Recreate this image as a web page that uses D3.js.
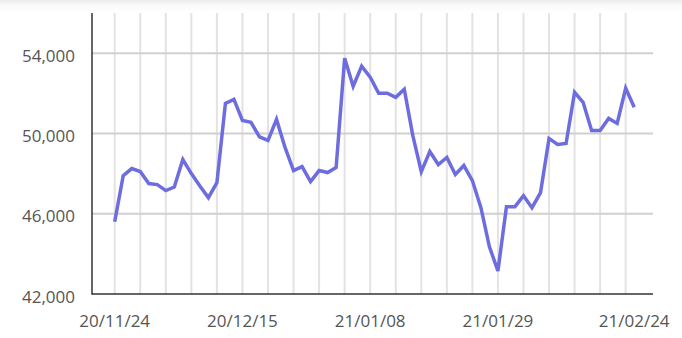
<!DOCTYPE html>
<html>
<head>
<meta charset="utf-8">
<script src="https://cdn.jsdelivr.net/npm/d3@7"></script>
<style>
  body { margin: 0; background: #fff; }
  #chart { position: relative; width: 682px; height: 338px;
    background: linear-gradient(to bottom, #ececec 0px, #fafafa 6px, #fff 12px); }
  text { font-family: "Open Sans", sans-serif; }
</style>
</head>
<body>
<div id="chart"></div>
<script>
// trading days 2020-11-24 .. 2021-02-24
var dates = [
  "20/11/24","20/11/25","20/11/26","20/11/27","20/11/30",
  "20/12/01","20/12/02","20/12/03","20/12/04","20/12/07","20/12/08","20/12/09","20/12/10","20/12/11",
  "20/12/14","20/12/15","20/12/16","20/12/17","20/12/18","20/12/21","20/12/22","20/12/23","20/12/24",
  "20/12/28","20/12/29","20/12/30",
  "21/01/04","21/01/05","21/01/06","21/01/07","21/01/08","21/01/11","21/01/12","21/01/13","21/01/14",
  "21/01/15","21/01/18","21/01/19","21/01/20","21/01/21","21/01/22","21/01/25","21/01/26","21/01/27",
  "21/01/28","21/01/29",
  "21/02/01","21/02/02","21/02/03","21/02/04","21/02/05","21/02/08","21/02/09","21/02/10",
  "21/02/15","21/02/16","21/02/17","21/02/18","21/02/19","21/02/22","21/02/23","21/02/24"
];
var prices = [
  45600, 47900, 48250, 48100, 47500, 47450, 47150, 47330, 48700, 48000,
  47380, 46800, 47550, 51500, 51700, 50650, 50550, 49830, 49650, 50700,
  49300, 48150, 48350, 47600, 48150, 48050, 48300, 53750, 52350, 53350,
  52800, 52000, 52000, 51800, 52200, 49900, 48100, 49100, 48450, 48800,
  47950, 48400, 47650, 46300, 44350, 43150, 46350, 46350, 46900, 46300,
  47050, 49750, 49450, 49500, 52050, 51550, 50150, 50150, 50750, 50500,
  52250, 51300
];
var yTicks = [42000, 46000, 50000, 54000];
var labelDates = ["20/11/24", "20/12/15", "21/01/08", "21/01/29", "21/02/24"];

var width = 682, height = 338;
var plot = {left: 92, right: 653, top: 13, bottom: 294};

var svg = d3.select("#chart").append("svg")
  .attr("width", width).attr("height", height)
  .style("position", "absolute").style("left", 0).style("top", 0);

var x = d3.scaleLinear()
  .domain([0, dates.length - 1])
  .range([114.7, 634.2]);

var y = d3.scaleLinear()
  .domain([42000, 56000])
  .range([plot.bottom, plot.top]);

// vertical grid, every 3rd trading day
var gridIdx = d3.range(0, dates.length, 3);
svg.append("g").selectAll("line")
  .data(gridIdx).enter().append("line")
  .attr("x1", function(d) { return x(d); })
  .attr("x2", function(d) { return x(d); })
  .attr("y1", plot.top).attr("y2", plot.bottom)
  .attr("stroke", "#e3e3e3").attr("stroke-width", 2);

// horizontal grid
svg.append("g").selectAll("line")
  .data(yTicks.filter(function(d) { return d > 42000; })).enter().append("line")
  .attr("x1", plot.left).attr("x2", plot.right)
  .attr("y1", function(d) { return y(d); })
  .attr("y2", function(d) { return y(d); })
  .attr("stroke", "#d0d0d0").attr("stroke-width", 2);

// axes lines
svg.append("line")
  .attr("x1", plot.left).attr("x2", plot.left)
  .attr("y1", plot.top).attr("y2", plot.bottom + 0.75)
  .attr("stroke", "#333").attr("stroke-width", 1.5);
svg.append("line")
  .attr("x1", plot.left).attr("x2", plot.right)
  .attr("y1", plot.bottom).attr("y2", plot.bottom)
  .attr("stroke", "#333").attr("stroke-width", 1.5);

// y labels
var fmt = d3.format(",");
svg.append("g").selectAll("text")
  .data(yTicks).enter().append("text")
  .attr("x", 75)
  .attr("y", function(d) { return y(d) + 8.5; })
  .attr("text-anchor", "end")
  .attr("font-size", "17px")
  .attr("fill", "#555")
  .text(function(d) { return fmt(d); });

// x labels
svg.append("g").selectAll("text")
  .data(labelDates).enter().append("text")
  .attr("x", function(d) { return x(dates.indexOf(d)); })
  .attr("y", 326.5)
  .attr("text-anchor", "middle")
  .attr("font-size", "17px")
  .attr("fill", "#555")
  .text(function(d) { return d; });

// price line
var line = d3.line()
  .x(function(d, i) { return x(i); })
  .y(function(d) { return y(d); });

svg.append("path")
  .datum(prices)
  .attr("d", line)
  .attr("fill", "none")
  .attr("stroke", "#6d6de0")
  .attr("stroke-width", 3.5)
  .attr("stroke-linejoin", "miter");
</script>
</body>
</html>
